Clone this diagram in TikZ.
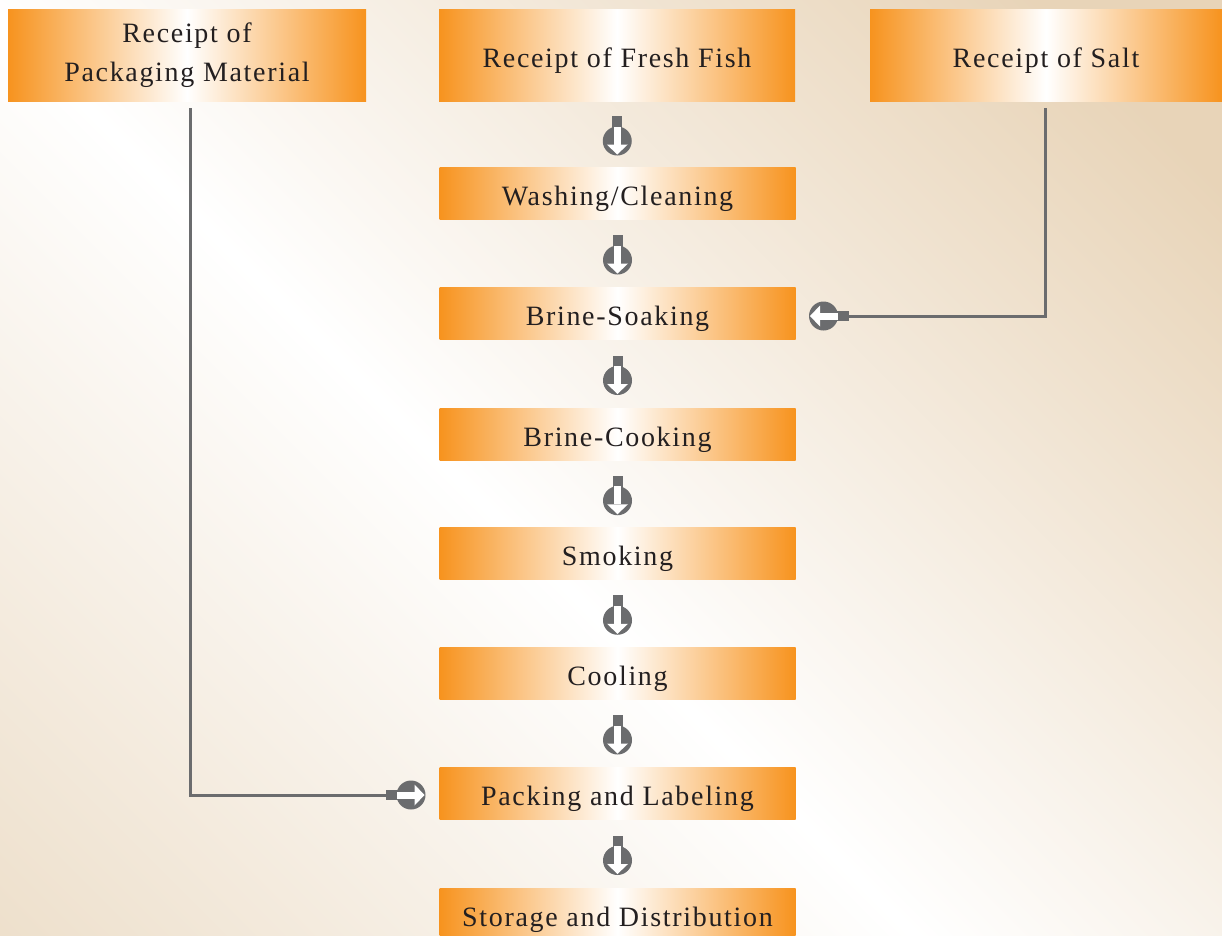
\documentclass[tikz,border=0pt]{standalone}
\usepackage{fontspec}
\setmainfont{Liberation Serif}[LetterSpace=6]
\usetikzlibrary{calc}
\definecolor{orng}{HTML}{F7931E}
\definecolor{icongray}{HTML}{6B6C6E}
\definecolor{txt}{HTML}{231F20}
\definecolor{bgA}{HTML}{E8D4B8}
\definecolor{bgB}{HTML}{EBDBC4}
\tikzset{
  box/.style={left color=orng, right color=orng, middle color=white,
    minimum width=356pt, minimum height=52pt, inner sep=0pt, text=txt,
    font=\fontsize{28}{34}\selectfont, align=center,
    text height=24pt, text depth=0pt},
  conn/.style={draw=icongray, line width=3pt},
  flowicon/.pic={
    \fill[icongray] (-5,-18) rectangle (5,-5);
    \fill[icongray] (0,7) circle[radius=14.5];
    \fill[white] (-3.5,-7.5) rectangle (3.5,10.5);
    \fill[white] (-10.5,10.5) -- (10.5,10.5) -- (0,20.5) -- cycle;
  }
}
\begin{document}
\begin{tikzpicture}[x=1pt,y=-1pt]
\useasboundingbox (0,0) rectangle (1222,935);
\begin{scope}
\clip (0,0) rectangle (1222,935);
\shade[top color=bgA, bottom color=bgB, middle color=white, shading angle=-45] (-190,-170) rectangle (1310,1330);
\end{scope}
% boxes
\node[box, minimum width=358pt, minimum height=92pt, text height=, text depth=] (pack) at (187,55) {Receipt of\\[5pt]Packaging Material};
\node[box, minimum height=92pt] (fish) at (617,55) {Receipt of Fresh Fish};
\node[box, minimum width=352pt, minimum height=92pt] (salt) at (1046,55) {Receipt of Salt};
\node[box] (wash) at (617.5,193) {Washing/Cleaning};
\node[box] (soak) at (617.5,313) {Brine-Soaking};
\node[box] (cook) at (617.5,434) {Brine-Cooking};
\node[box] (smok) at (617.5,553.5) {Smoking};
\node[box] (cool) at (617.5,673) {Cooling};
\node[box] (pkl) at (617.5,793) {Packing and Labeling};
\node[box] (stor) at (617.5,914) {Storage and Distribution};
% vertical flow icons
\foreach \a/\b in {fish/wash,wash/soak,soak/cook,cook/smok,smok/cool,cool/pkl,pkl/stor}{
  \coordinate (m-\a) at ($(\a.south)!0.5!(\b.north)$);
  \pic at (m-\a) {flowicon};
}
% side connectors
\coordinate (pin) at (411,795);
\coordinate (sin) at (823.5,316);
\draw[conn] ([xshift=3pt,yshift=-7pt]pack.south) |- ([xshift=-22pt]pin);
\pic[rotate=90] at ([xshift=-7pt]pin) {flowicon};
\draw[conn] ([xshift=-1pt,yshift=-7pt]salt.south) |- ([xshift=22pt]sin);
\pic[rotate=-90] at ([xshift=7pt]sin) {flowicon};
\end{tikzpicture}
\end{document}
